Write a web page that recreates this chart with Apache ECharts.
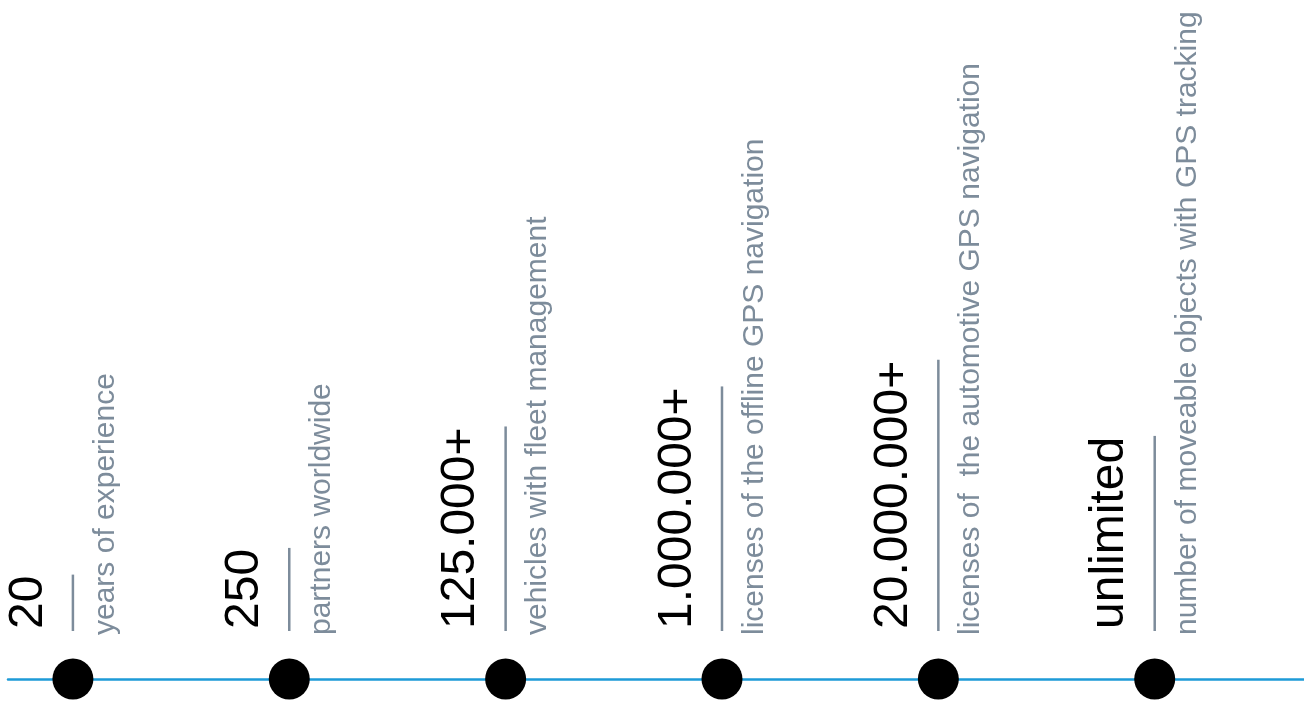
<!DOCTYPE html>
<html>
<head>
<meta charset="utf-8">
<script src="https://cdn.jsdelivr.net/npm/echarts@6/dist/echarts.min.js"></script>
<style>
  html, body { margin: 0; padding: 0; background: #fff; }
  #chart { width: 1304px; height: 702px; }
</style>
</head>
<body>
<div id="chart"></div>
<script>
// milestones, left to right
var figures = ['20', '250', '125.000+', '1.000.000+', '20.000.000+', 'unlimited'];
var captions = [
  'years of experience',
  'partners worldwide',
  'vehicles with fleet management',
  'licenses of the offline GPS navigation',
  'licenses of  the automotive GPS navigation',
  'number of moveable objects with GPS tracking'
];
var positions = [0, 1, 2, 3, 4, 5];

var BIG_FONT = '48px "Liberation Sans", Arial, sans-serif';
var SMALL_FONT = '30px "Liberation Sans", Arial, sans-serif';

// measure rotated text length so the grey rule matches the figure
var ctx = document.createElement('canvas').getContext('2d');
function textWidth(str, font) {
  ctx.font = font;
  return ctx.measureText(str).width;
}

var chart = echarts.init(document.getElementById('chart'));

var option = {
  animation: false,
  grid: { left: 8, right: 0, top: 0, bottom: 23 },
  xAxis: {
    type: 'value',
    min: -0.3,
    max: 5.69,
    axisLine: { show: true, lineStyle: { color: '#1e9bd7', width: 2.5 } },
    axisTick: { show: false },
    axisLabel: { show: false },
    splitLine: { show: false }
  },
  yAxis: {
    type: 'value',
    min: 0,
    max: 1,
    show: false
  },
  series: [
    {
      type: 'custom',
      data: positions.map(function (p) { return [p, 0]; }),
      renderItem: function (params, api) {
        var i = params.dataIndex;
        var pt = api.coord([api.value(0), api.value(1)]);
        var w = textWidth(figures[i], BIG_FONT);
        return {
          type: 'group',
          children: [
            {
              type: 'line',
              shape: { x1: pt[0], y1: pt[1] - 48, x2: pt[0], y2: pt[1] - 51 - w },
              style: { stroke: '#7d8c9b', lineWidth: 2.5 }
            },
            {
              type: 'text',
              x: pt[0] - 44.6,
              y: pt[1] - 50,
              rotation: Math.PI / 2,
              style: {
                text: figures[i],
                font: BIG_FONT,
                fill: '#000',
                align: 'left',
                verticalAlign: 'middle'
              }
            },
            {
              type: 'text',
              x: pt[0] + 32.6,
              y: pt[1] - 44,
              rotation: Math.PI / 2,
              style: {
                text: captions[i],
                font: SMALL_FONT,
                fill: '#7d8c9b',
                align: 'left',
                verticalAlign: 'middle'
              }
            },
            {
              type: 'circle',
              shape: { cx: pt[0], cy: pt[1], r: 20.5 },
              style: { fill: '#000' }
            }
          ]
        };
      }
    }
  ]
};

chart.setOption(option);
</script>
</body>
</html>
